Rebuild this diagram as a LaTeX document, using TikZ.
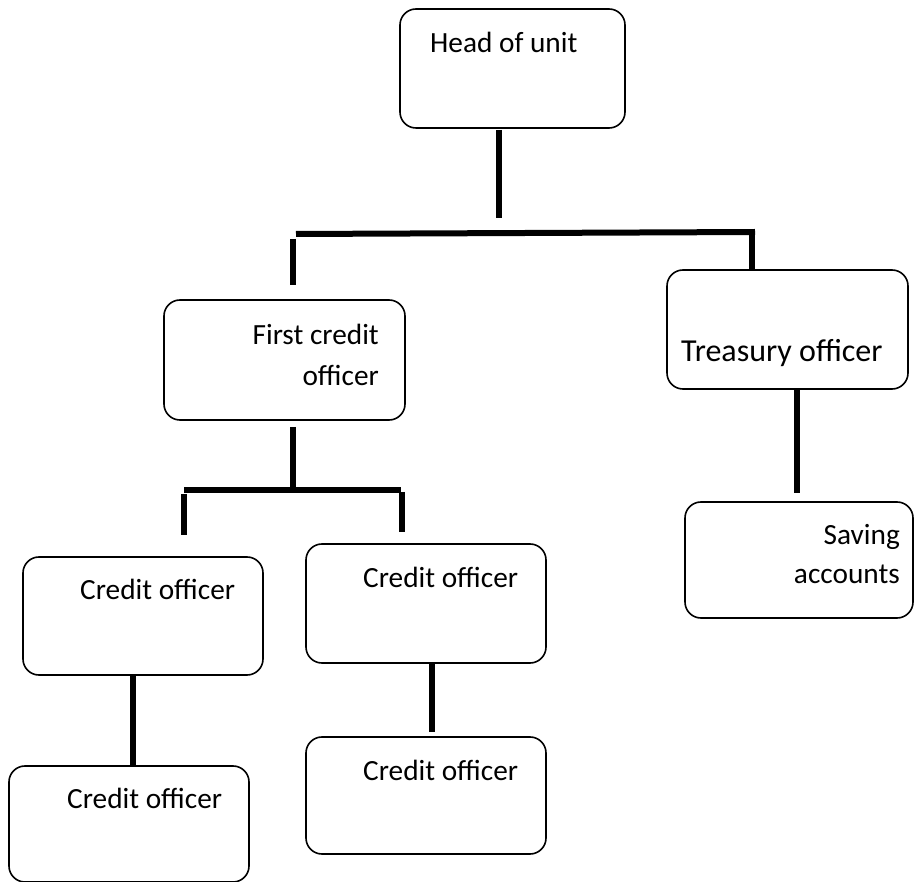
\documentclass[tikz,border=0pt]{standalone}
\usepackage{fontspec}
\setmainfont{Carlito}
\begin{document}
\begin{tikzpicture}[x=1pt,y=-1pt,
  box/.style={draw=black, line width=1.6pt, rounded corners=16pt, fill=white, inner sep=0pt},
  lbl/.style={inner sep=0pt, font=\fontsize{29.3}{35}\selectfont},
  conn/.style={line width=6pt, line cap=butt}]
\useasboundingbox[fill=white] (0,0) rectangle (914,882);
% boxes
\node[box, minimum width=225pt, minimum height=119pt] (head) at (512.5,68.5) {};
\node[box, minimum width=241pt, minimum height=120pt] (first) at (284.5,360) {};
\node[box, minimum width=241pt, minimum height=119pt] (treas) at (787.5,329.5) {};
\node[box, minimum width=228pt, minimum height=116pt] (saving) at (799,560) {};
\node[box, minimum width=240pt, minimum height=118pt] (credL) at (143,616) {};
\node[box, minimum width=240pt, minimum height=119pt] (credM) at (426,603.5) {};
\node[box, minimum width=240pt, minimum height=116pt] (credBL) at (129,824) {};
\node[box, minimum width=240pt, minimum height=117pt] (credBM) at (426,795.5) {};
% labels
\node[lbl, anchor=base west] (t1) at (430,53) {Head of unit};
\node[lbl, anchor=base east] (t2) at (379,345) {First credit};
\node[lbl, anchor=base east] (t3) at (379,386) {officer};
\node[lbl, anchor=base west, font=\fontsize{32}{38}\selectfont] (t4) at (681,362) {Treasury officer};
\node[lbl, anchor=base east] (t5) at (900,545) {Saving};
\node[lbl, anchor=base east] (t6) at (900,584) {accounts};
\node[lbl, anchor=base west] (t7) at (80,600) {Credit officer};
\node[lbl, anchor=base west] (t8) at (363,587) {Credit officer};
\node[lbl, anchor=base west] (t9) at (67,808) {Credit officer};
\node[lbl, anchor=base west] (t10) at (363,780) {Credit officer};
% connector coordinates
\coordinate (h1) at (499,130);
\coordinate (h2) at (499,218);
\coordinate (m1) at (296,234);
\coordinate (m2) at (755,232);
\coordinate (d1a) at (293,239);
\coordinate (d1b) at (293,285);
\coordinate (d2a) at (752,232);
\coordinate (f1) at (293,427);
\coordinate (f2) at (293,488);
\coordinate (s1) at (184,490);
\coordinate (s2) at (401,490);
\coordinate (sl1) at (184,494);
\coordinate (sl2) at (184,535);
\coordinate (sr1) at (402,492);
\coordinate (sr2) at (402,532);
\coordinate (cl) at (133,766);
\coordinate (cm) at (432,732);
\coordinate (tr) at (797,493);
% connectors
\draw[conn] (h1) -- (h2);
\draw[conn] (m1) -- (m2);
\draw[conn] (d1a) -- (d1b);
\draw[conn] (d2a) -- (d2a |- treas.north);
\draw[conn] (f1) -- (f2);
\draw[conn] (s1) -- (s2);
\draw[conn] (sl1) -- (sl2);
\draw[conn] (sr1) -- (sr2);
\draw[conn] (cl |- credL.south) -- (cl);
\draw[conn] (cm |- credM.south) -- (cm);
\draw[conn] (tr |- treas.south) -- (tr);
\end{tikzpicture}
\end{document}
